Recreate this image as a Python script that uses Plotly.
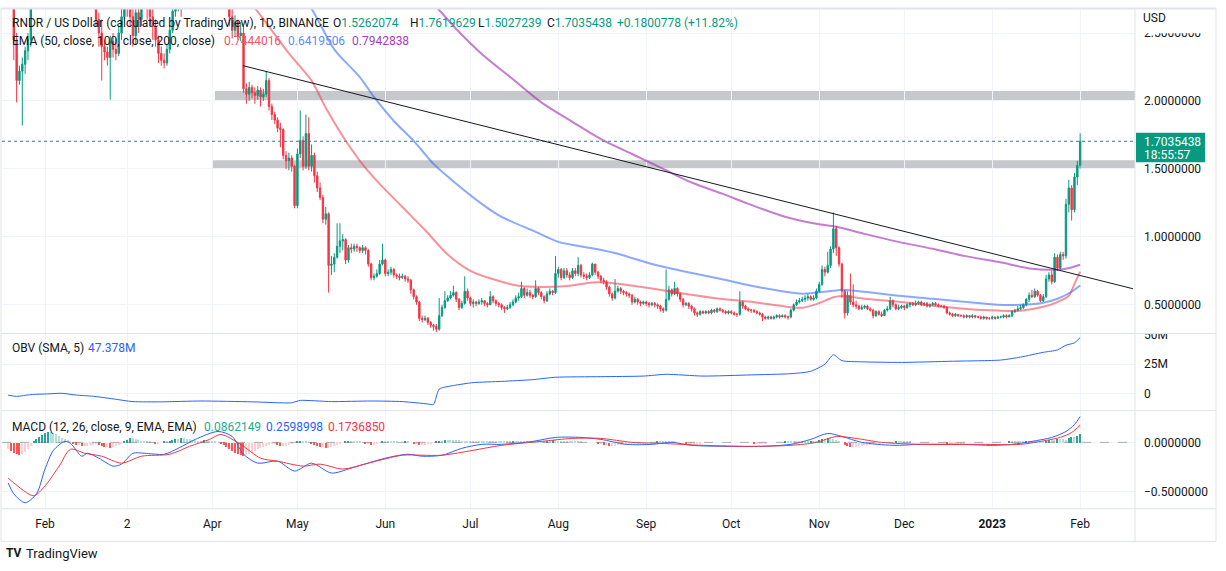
import pandas as pd
import plotly.graph_objects as go

W, H = 1226, 571
FONT = "Roboto"
START = pd.Timestamp("2022-01-19")

# ---------------- daily candles (open = previous close) ----------------
open_first = 3.00
close = [
    2.95, 2.75, 2.45, 2.15, 2.22, 2.27, 2.37, 2.45, 2.75, 2.90,
    3.00, 3.10, 3.05, 3.20, 3.35, 3.50, 3.60, 3.45, 3.55, 3.40,
    3.20, 3.30, 3.10, 2.95, 3.00, 2.85, 2.90, 2.95, 2.90, 2.95,
    2.90, 2.60, 2.50, 2.40, 2.36, 2.32, 2.44, 2.38, 2.35, 2.50,
    2.62, 2.80, 2.75, 2.62, 2.48, 2.65, 2.60, 2.72, 2.80, 2.70,
    2.62, 2.55, 2.45, 2.35, 2.30, 2.28, 2.38, 2.52, 2.66, 2.75,
    2.80, 2.75, 2.85, 2.90, 2.95, 3.00, 2.90, 3.00, 3.15, 3.25,
    3.20, 3.30, 3.10, 3.05, 3.15, 3.10, 3.00, 2.85, 2.62, 2.52,
    2.58, 2.48, 2.50, 2.09, 2.05, 2.10, 2.06, 2.04, 2.08, 2.03,
    2.05, 2.15, 1.96, 1.90, 1.86, 1.80, 1.79, 1.60, 1.56, 1.58,
    1.52, 1.23, 1.61, 1.71, 1.52, 1.76, 1.52, 1.60, 1.45, 1.36,
    1.29, 1.13, 1.17, 0.79, 0.80, 0.85, 0.93, 0.97, 0.98, 0.83,
    0.92, 0.91, 0.93, 0.92, 0.90, 0.92, 0.90, 0.80, 0.70, 0.71,
    0.73, 0.80, 0.83, 0.73, 0.74, 0.76, 0.72, 0.71, 0.70, 0.71,
    0.69, 0.68, 0.61, 0.56, 0.52, 0.40, 0.39, 0.40, 0.37, 0.35,
    0.34, 0.32, 0.42, 0.48, 0.53, 0.55, 0.57, 0.59, 0.54, 0.48,
    0.51, 0.60, 0.55, 0.51, 0.52, 0.51, 0.52, 0.53, 0.51, 0.50,
    0.56, 0.53, 0.51, 0.50, 0.48, 0.47, 0.48, 0.50, 0.52, 0.55,
    0.56, 0.62, 0.57, 0.59, 0.57, 0.56, 0.62, 0.59, 0.56, 0.53,
    0.58, 0.60, 0.59, 0.73, 0.76, 0.70, 0.75, 0.72, 0.70, 0.75,
    0.73, 0.79, 0.72, 0.71, 0.70, 0.72, 0.80, 0.74, 0.71, 0.68,
    0.67, 0.63, 0.58, 0.55, 0.60, 0.62, 0.60, 0.59, 0.58, 0.57,
    0.52, 0.54, 0.52, 0.51, 0.52, 0.51, 0.50, 0.51, 0.50, 0.49,
    0.47, 0.46, 0.54, 0.61, 0.58, 0.62, 0.58, 0.54, 0.50, 0.51,
    0.49, 0.47, 0.44, 0.43, 0.45, 0.44, 0.45, 0.44, 0.46, 0.45,
    0.47, 0.46, 0.45, 0.44, 0.45, 0.44, 0.43, 0.43, 0.52, 0.49,
    0.47, 0.46, 0.46, 0.45, 0.44, 0.43, 0.41, 0.40, 0.41, 0.40,
    0.41, 0.42, 0.41, 0.42, 0.41, 0.41, 0.46, 0.50, 0.52, 0.53,
    0.54, 0.55, 0.56, 0.54, 0.55, 0.60, 0.65, 0.76, 0.74, 0.79,
    0.91, 1.06, 0.92, 0.80, 0.60, 0.44, 0.57, 0.52, 0.50, 0.49,
    0.47, 0.48, 0.49, 0.47, 0.46, 0.42, 0.45, 0.43, 0.42, 0.46,
    0.47, 0.53, 0.50, 0.47, 0.48, 0.49, 0.48, 0.50, 0.51, 0.50,
    0.51, 0.52, 0.50, 0.51, 0.49, 0.50, 0.51, 0.50, 0.49, 0.49,
    0.48, 0.44, 0.43, 0.42, 0.43, 0.42, 0.42, 0.41, 0.42, 0.41,
    0.42, 0.41, 0.41, 0.40, 0.41, 0.40, 0.40, 0.41, 0.40, 0.41,
    0.41, 0.42, 0.41, 0.42, 0.45, 0.46, 0.47, 0.48, 0.50, 0.54,
    0.57, 0.56, 0.60, 0.57, 0.53, 0.56, 0.69, 0.72, 0.67, 0.85,
    0.77, 0.87, 0.86, 1.24, 1.36, 1.20, 1.44, 1.5262074, 1.7035438,
]
high = [
    3.10, 2.98, 2.80, 2.50, 2.26, 2.32, 2.40, 2.50, 2.85, 3.00,
    3.10, 3.20, 3.20, 3.30, 3.50, 3.70, 3.80, 3.70, 3.75, 3.60,
    3.45, 3.40, 3.35, 3.15, 3.10, 3.05, 3.00, 3.05, 3.00, 3.05,
    3.00, 2.95, 2.65, 2.60, 2.45, 2.40, 2.48, 2.50, 2.46, 2.55,
    2.70, 2.90, 2.95, 2.80, 2.68, 2.70, 2.75, 2.85, 2.95, 2.85,
    2.75, 2.70, 2.60, 2.48, 2.40, 2.35, 2.42, 2.56, 2.72, 2.85,
    2.90, 2.88, 2.95, 3.00, 3.05, 3.10, 3.05, 3.10, 3.30, 3.40,
    3.35, 3.45, 3.35, 3.20, 3.25, 3.20, 3.15, 3.05, 2.90, 2.68,
    2.63, 2.60, 2.58, 2.55, 2.13, 2.14, 2.12, 2.10, 2.11, 2.10,
    2.09, 2.22, 2.17, 1.98, 1.92, 1.88, 1.84, 1.80, 1.63, 1.62,
    1.60, 1.53, 1.65, 1.93, 1.74, 1.90, 1.88, 1.68, 1.62, 1.48,
    1.40, 1.31, 1.22, 1.18, 0.86, 0.88, 1.10, 1.10, 1.02, 0.99,
    0.94, 0.95, 0.95, 0.95, 0.93, 0.94, 0.93, 0.91, 0.81, 0.73,
    0.76, 0.83, 0.95, 0.84, 0.76, 0.78, 0.77, 0.73, 0.73, 0.73,
    0.72, 0.71, 0.69, 0.62, 0.57, 0.53, 0.42, 0.42, 0.41, 0.38,
    0.36, 0.36, 0.55, 0.50, 0.60, 0.57, 0.60, 0.64, 0.60, 0.55,
    0.53, 0.71, 0.62, 0.56, 0.54, 0.53, 0.54, 0.55, 0.53, 0.52,
    0.60, 0.57, 0.54, 0.52, 0.51, 0.49, 0.50, 0.52, 0.54, 0.57,
    0.59, 0.67, 0.63, 0.62, 0.61, 0.58, 0.68, 0.63, 0.60, 0.57,
    0.60, 0.62, 0.61, 0.86, 0.78, 0.77, 0.77, 0.77, 0.74, 0.77,
    0.77, 0.85, 0.80, 0.74, 0.73, 0.74, 0.81, 0.80, 0.75, 0.72,
    0.70, 0.68, 0.64, 0.59, 0.69, 0.64, 0.63, 0.61, 0.60, 0.59,
    0.58, 0.56, 0.55, 0.53, 0.53, 0.53, 0.52, 0.52, 0.52, 0.51,
    0.50, 0.48, 0.76, 0.64, 0.62, 0.67, 0.63, 0.59, 0.55, 0.52,
    0.52, 0.50, 0.48, 0.45, 0.46, 0.46, 0.46, 0.46, 0.47, 0.47,
    0.48, 0.48, 0.47, 0.46, 0.46, 0.46, 0.45, 0.44, 0.60, 0.53,
    0.50, 0.48, 0.47, 0.47, 0.46, 0.45, 0.44, 0.42, 0.42, 0.42,
    0.42, 0.43, 0.43, 0.43, 0.43, 0.42, 0.47, 0.51, 0.54, 0.55,
    0.56, 0.57, 0.58, 0.57, 0.57, 0.62, 0.67, 0.79, 0.78, 0.89,
    0.93, 1.18, 1.08, 0.93, 0.81, 0.61, 0.60, 0.73, 0.65, 0.53,
    0.50, 0.50, 0.50, 0.50, 0.48, 0.47, 0.46, 0.46, 0.45, 0.47,
    0.49, 0.56, 0.54, 0.51, 0.50, 0.50, 0.50, 0.51, 0.52, 0.52,
    0.53, 0.53, 0.53, 0.52, 0.52, 0.51, 0.52, 0.52, 0.51, 0.50,
    0.50, 0.49, 0.45, 0.44, 0.44, 0.43, 0.43, 0.43, 0.43, 0.42,
    0.43, 0.42, 0.42, 0.42, 0.42, 0.41, 0.41, 0.42, 0.41, 0.42,
    0.42, 0.43, 0.43, 0.43, 0.46, 0.47, 0.49, 0.50, 0.51, 0.55,
    0.59, 0.61, 0.62, 0.61, 0.58, 0.58, 0.72, 0.74, 0.75, 0.88,
    0.87, 0.89, 0.89, 1.28, 1.42, 1.38, 1.47, 1.56, 1.7619629,
]
low = [
    2.80, 2.70, 2.30, 1.99, 2.12, 1.82, 2.20, 2.30, 2.40, 2.70,
    2.85, 2.95, 2.95, 3.00, 3.15, 3.30, 3.40, 3.35, 3.40, 3.25,
    3.10, 3.10, 3.00, 2.75, 2.80, 2.68, 2.72, 2.75, 2.78, 2.82,
    2.75, 2.55, 2.40, 2.15, 2.30, 2.26, 2.01, 2.32, 2.30, 2.33,
    2.45, 2.60, 2.62, 2.55, 2.40, 2.42, 2.50, 2.55, 2.68, 2.60,
    2.55, 2.45, 2.40, 2.28, 2.26, 2.24, 2.26, 2.35, 2.50, 2.62,
    2.66, 2.62, 2.70, 2.78, 2.80, 2.85, 2.75, 2.68, 2.95, 3.10,
    3.05, 3.15, 3.00, 2.95, 3.00, 2.95, 2.85, 2.75, 2.55, 2.46,
    2.47, 2.45, 2.44, 2.06, 1.98, 2.00, 2.02, 1.98, 2.01, 1.96,
    2.00, 2.03, 1.93, 1.86, 1.83, 1.77, 1.66, 1.57, 1.50, 1.49,
    1.48, 1.21, 1.21, 1.58, 1.49, 1.50, 1.49, 1.48, 1.40, 1.33,
    1.27, 1.10, 1.09, 0.59, 0.72, 0.74, 0.84, 0.88, 0.90, 0.80,
    0.81, 0.88, 0.89, 0.89, 0.88, 0.88, 0.87, 0.78, 0.68, 0.68,
    0.70, 0.72, 0.79, 0.71, 0.71, 0.72, 0.70, 0.69, 0.68, 0.69,
    0.67, 0.66, 0.58, 0.54, 0.50, 0.38, 0.37, 0.38, 0.35, 0.33,
    0.31, 0.30, 0.31, 0.41, 0.47, 0.52, 0.54, 0.56, 0.52, 0.46,
    0.47, 0.50, 0.53, 0.49, 0.48, 0.49, 0.50, 0.50, 0.49, 0.48,
    0.50, 0.51, 0.49, 0.48, 0.46, 0.44, 0.46, 0.47, 0.49, 0.51,
    0.53, 0.55, 0.55, 0.56, 0.55, 0.54, 0.55, 0.57, 0.54, 0.51,
    0.52, 0.57, 0.57, 0.58, 0.70, 0.68, 0.69, 0.70, 0.68, 0.69,
    0.71, 0.71, 0.70, 0.69, 0.68, 0.69, 0.71, 0.72, 0.69, 0.66,
    0.65, 0.61, 0.56, 0.53, 0.54, 0.59, 0.58, 0.57, 0.56, 0.55,
    0.50, 0.51, 0.50, 0.49, 0.50, 0.49, 0.48, 0.49, 0.48, 0.47,
    0.45, 0.44, 0.45, 0.53, 0.56, 0.57, 0.56, 0.52, 0.48, 0.49,
    0.47, 0.45, 0.42, 0.41, 0.42, 0.43, 0.43, 0.43, 0.43, 0.44,
    0.44, 0.45, 0.44, 0.43, 0.43, 0.43, 0.42, 0.41, 0.42, 0.47,
    0.46, 0.45, 0.44, 0.44, 0.43, 0.42, 0.38, 0.39, 0.39, 0.39,
    0.39, 0.40, 0.40, 0.41, 0.40, 0.39, 0.40, 0.45, 0.49, 0.51,
    0.52, 0.52, 0.53, 0.53, 0.53, 0.54, 0.59, 0.64, 0.71, 0.73,
    0.77, 0.88, 0.86, 0.78, 0.55, 0.40, 0.42, 0.50, 0.48, 0.47,
    0.46, 0.46, 0.47, 0.46, 0.45, 0.40, 0.41, 0.42, 0.41, 0.42,
    0.45, 0.46, 0.48, 0.46, 0.46, 0.47, 0.46, 0.47, 0.48, 0.49,
    0.49, 0.50, 0.49, 0.49, 0.48, 0.48, 0.49, 0.49, 0.48, 0.48,
    0.47, 0.43, 0.42, 0.41, 0.41, 0.41, 0.41, 0.40, 0.40, 0.40,
    0.40, 0.40, 0.40, 0.39, 0.39, 0.39, 0.39, 0.39, 0.39, 0.40,
    0.40, 0.40, 0.40, 0.41, 0.41, 0.44, 0.45, 0.46, 0.47, 0.49,
    0.52, 0.55, 0.55, 0.56, 0.52, 0.52, 0.55, 0.67, 0.65, 0.66,
    0.75, 0.76, 0.83, 0.84, 1.18, 1.12, 1.18, 1.38, 1.5027239,
]

# MACD histogram (daily, in hundredths)
hist = [
    -6, -8, -10, -11, -12, -11, -9, -6, -3, 2,
    4, 6, 8, 10, 11, 11, 10, 9, 7, 5,
    4, 3, 1, -1, -2, -2, -3, -3, -3, -2,
    -2, -1, -2, -3, -4, -4, -5, -4, -3, -2,
    -1, 1, 3, 5, 5, 4, 3, 2, 1, 1,
    1, 0, -1, -1, 0, 1, 1, 2, 3, 4,
    4, 5, 5, 4, 4, 3, 3, 2, 2, 3,
    3, 2, 2, 1, 0, -1, -2, -4, -6, -8,
    -10, -11, -12, -13, -12, -11, -10, -8, -6, -5,
    -4, -3, -2, -1, -1, -2, -3, -3, -3, -2,
    -1, 0, 1, 2, 2, 1, 0, -1, -2, -3,
    -4, -4, -5, -5, -4, -3, -2, -1, 0, 1,
    2, 2, 2, 1, 1, 0, -1, -1, -2, -2,
    -1, 0, 1, 1, 1, 1, 1, 1, 0, 0,
    1, 1, 0, -1, -1, -2, -2, -2, -1, -1,
    0, 1, 2, 2, 3, 3, 3, 3, 3, 3,
    2, 2, 2, 2, 2, 2, 2, 1, 1, 1,
    1, 1, 1, 1, 1, 1, 1, 1, 2, 2,
    2, 2, 2, 1, 1, 1, 1, 1, 1, 1,
    2, 2, 3, 3, 2, 2, 1, 1, 1, 1,
    1, 1, 1, 0, 0, 0, 0, 0, -1, -1,
    -2, -2, -3, -3, -3, -2, -2, -2, -2, -2,
    -1, -1, -1, -1, -1, -1, 0, 0, 0, 1,
    1, 1, 1, 1, 1, 1, 0, 0, 0, -1,
    -1, -1, -1, -1, -1, 0, 0, 0, 0, 0,
    0, 0, 0, 0, 0, 0, 0, 0, 0, 0,
    0, 0, 0, -1, -1, -1, -1, -1, 0, 0,
    0, 0, 0, 0, 1, 1, 1, 1, 1, 1,
    1, 1, 1, 2, 2, 2, 3, 4, 4, 5,
    5, 4, 3, 2, 0, -2, -3, -4, -4, -4,
    -3, -3, -2, -2, -2, -1, -1, -1, 0, 0,
    0, 0, 0, 1, 1, 1, 1, 1, 1, 0,
    0, 0, 0, 0, 0, 0, 0, 0, 0, 0,
    0, -1, -1, -1, -1, -1, -1, -1, 0, 0,
    0, 0, 0, 0, 0, 0, 0, 0, 0, 0,
    0, 0, 0, 1, 1, 1, 1, 1, 1, 2,
    2, 2, 2, 2, 1, 1, 2, 3, 3, 3,
    4, 4, 4, 3, 5, 6, 6, 7, 8.6,
]

# ---------------- indicator lines (day offsets from START) ----------------
ema50_day = [75, 86, 99, 107, 112, 118, 124, 131, 139, 147, 155, 163, 174, 180, 192, 198, 207, 215,
             227, 239, 251, 262, 274, 280, 285, 291, 294, 302, 314, 326, 337, 349, 357, 365, 370, 374, 376, 378]
ema50_val = [2.95, 2.71, 2.35, 2.15, 1.95, 1.74, 1.56, 1.39, 1.22, 1.05, 0.87, 0.75, 0.67, 0.64, 0.632, 0.64,
             0.665, 0.655, 0.62, 0.58, 0.545, 0.522, 0.487, 0.478, 0.505, 0.555, 0.565, 0.545, 0.522, 0.493,
             0.471, 0.457, 0.456, 0.485, 0.52, 0.566, 0.654, 0.7444016]
ema100_day = [95, 106, 115, 124, 129, 136, 143, 150, 156, 167, 174, 186, 194, 207, 215, 227, 239, 251, 262,
              274, 280, 285, 291, 294, 302, 314, 326, 337, 349, 357, 365, 370, 375, 378]
ema100_val = [2.95, 2.71, 2.38, 2.176, 2.03, 1.853, 1.706, 1.537, 1.426, 1.243, 1.147, 1.037, 0.963, 0.912,
              0.875, 0.80, 0.743, 0.691, 0.64, 0.596, 0.581, 0.59, 0.603, 0.61, 0.596, 0.566, 0.544, 0.522,
              0.50, 0.50, 0.515, 0.544, 0.596, 0.6419506]
ema200_day = [140, 150, 158, 167, 178, 188, 199, 209, 220, 231, 241, 252, 261, 273, 285, 292, 302, 314, 326,
              337, 349, 361, 367, 373, 378]
ema200_val = [2.90, 2.713, 2.53, 2.346, 2.16, 1.99, 1.846, 1.72, 1.61, 1.50, 1.40, 1.316, 1.243, 1.154, 1.096,
              1.074, 1.022, 0.963, 0.912, 0.86, 0.816, 0.765, 0.757, 0.765, 0.7942838]

obv_day = [0, 3, 8, 14, 19, 24, 30, 37, 44, 54, 68, 86, 100, 103, 114, 128, 139, 148, 150, 152, 157, 164, 174,
           185, 193, 209, 224, 232, 245, 262, 276, 283, 288, 291, 294, 301, 315, 333, 350, 357, 365, 370, 373,
           376, 378]
obv_val = [-1.1, -2.1, -0.6, 0.0, 0.5, -1.0, -2.0, -4.2, -6.5, -6.7, -6.0, -6.7, -7.5, -5.5, -6.5, -6.0, -6.5,
           -8.5, -9.0, 4.0, 7.0, 9.5, 10.5, 12.0, 14.0, 14.5, 15.0, 16.5, 15.0, 16.0, 17.0, 19.0, 25.0, 33.0,
           28.0, 27.0, 26.5, 27.5, 28.5, 31.0, 35.0, 37.0, 41.0, 43.0, 47.378]

macd_day = [0, 2, 6, 10, 13, 16, 20, 22, 26, 28, 32, 37, 40, 44, 48, 55, 60, 66, 74, 79, 83, 88, 95, 101, 107,
            114, 121, 133, 141, 146, 153, 160, 167, 174, 185, 193, 202, 209, 218, 227, 234, 241, 252, 266, 276,
            283, 289, 294, 301, 312, 322, 336, 347, 354, 361, 368, 373, 376, 378]
macd_val = [-0.41, -0.52, -0.61, -0.52, -0.27, -0.08, 0.01, -0.01, -0.14, -0.11, -0.16, -0.24, -0.22, -0.11,
            -0.11, -0.12, -0.06, 0.03, 0.11, 0.06, -0.12, -0.21, -0.19, -0.29, -0.21, -0.31, -0.26, -0.16,
            -0.12, -0.14, -0.13, -0.06, -0.02, -0.02, 0.01, 0.05, 0.05, 0.03, -0.02, -0.02, 0.0, -0.03, -0.04,
            -0.04, -0.02, 0.03, 0.09, 0.06, 0.0, -0.03, -0.02, -0.02, -0.03, -0.02, 0.01, 0.05, 0.11, 0.18,
            0.2598998]
sig_day = [0, 2, 9, 13, 18, 22, 27, 33, 40, 47, 57, 64, 71, 75, 82, 89, 95, 104, 110, 118, 127, 139, 146, 153,
           164, 174, 188, 199, 209, 220, 230, 245, 262, 276, 285, 292, 299, 308, 322, 343, 357, 366, 371, 375, 378]
sig_val = [-0.36, -0.41, -0.54, -0.44, -0.24, -0.07, -0.11, -0.14, -0.21, -0.14, -0.12, -0.04, 0.03, 0.08,
           -0.02, -0.16, -0.19, -0.24, -0.22, -0.27, -0.21, -0.13, -0.13, -0.13, -0.08, -0.03, 0.01, 0.04,
           0.04, 0.0, -0.01, -0.03, -0.04, -0.03, 0.0, 0.06, 0.04, 0.0, -0.02, -0.02, -0.02, 0.02, 0.05, 0.10,
           0.173685]

# ---------------- drawings ----------------
zone_start = ["2022-03-31 21:00", "2022-04-01 22:00"]
zone_low = [1.500, 2.007]
zone_high = [1.563, 2.073]
trend_x = ["2022-04-11 19:00", "2023-02-19 15:00"]
trend_y = [2.26, 0.618]

price_ticks = [0.5, 1.0, 1.5, 2.0, 2.5]
obv_ticks = [0, 25e6, 50e6]
obv_labels = ["0", "25M", "50M"]
macd_ticks = [0.0, -0.5]
macd_labels = ["0.0000000", "\u22120.5000000"]
month_ticks = ["2022-02-01", "2022-03-02", "2022-04-01", "2022-05-01", "2022-06-01", "2022-07-01",
               "2022-08-01", "2022-09-01", "2022-10-01", "2022-11-01", "2022-12-01", "2023-01-01", "2023-02-01"]
month_labels = ["Feb", "2", "Apr", "May", "Jun", "Jul", "Aug", "Sep", "Oct", "Nov", "Dec", "<b>2023</b>", "Feb"]

# ---------------- build ----------------
def to_dates(days):
    return [START + pd.Timedelta(days=d) for d in days]

n = len(close)
dates = to_dates(range(n))
opens = [open_first] + close[:-1]

UP, DOWN = "#089981", "#F23645"

fig = go.Figure()
fig.add_trace(go.Candlestick(
    x=dates, open=opens, high=high, low=low, close=close,
    increasing=dict(line=dict(color=UP, width=1), fillcolor=UP),
    decreasing=dict(line=dict(color=DOWN, width=1), fillcolor=DOWN),
    whiskerwidth=0, xaxis="x", yaxis="y", hoverinfo="skip"))

for d, v, col in [(ema50_day, ema50_val, "rgba(242,54,69,0.55)"),
                  (ema100_day, ema100_val, "rgba(41,98,255,0.55)"),
                  (ema200_day, ema200_val, "rgba(156,39,176,0.6)")]:
    fig.add_trace(go.Scatter(x=to_dates(d), y=v, mode="lines",
                             line=dict(color=col, width=2, shape="spline", smoothing=0.8),
                             xaxis="x", yaxis="y", hoverinfo="skip"))

fig.add_trace(go.Scatter(x=to_dates(obv_day), y=[v * 1e6 for v in obv_val], mode="lines",
                         line=dict(color="#2962FF", width=1, shape="spline", smoothing=0.6),
                         xaxis="x", yaxis="y2", hoverinfo="skip"))

hvals = [h / 100 for h in hist]
hcols = []
for k, h in enumerate(hvals):
    prev = hvals[k - 1] if k > 0 else h
    if h >= 0:
        hcols.append("#26A69A" if h > prev else "#B2DFDB")
    else:
        hcols.append("#FF5252" if h < prev else "#FFCDD2")
fig.add_trace(go.Bar(x=dates, y=hvals, marker=dict(color=hcols, line=dict(width=0)),
                     width=0.45 * 86400000, xaxis="x", yaxis="y3", hoverinfo="skip"))
fig.add_trace(go.Scatter(x=to_dates(macd_day), y=macd_val, mode="lines",
                         line=dict(color="#2962FF", width=1, shape="spline", smoothing=0.8),
                         xaxis="x", yaxis="y3", hoverinfo="skip"))
fig.add_trace(go.Scatter(x=to_dates(sig_day), y=sig_val, mode="lines",
                         line=dict(color="#F23645", width=1, shape="spline", smoothing=0.8),
                         xaxis="x", yaxis="y3", hoverinfo="skip"))

# ---------------- layout geometry (pixels) ----------------
PX_PER_DAY = 2.836
FEB1_X = 45
PLOT_L, PLOT_R = 2, 1135
feb1 = pd.Timestamp("2022-02-01")
x0 = feb1 + pd.Timedelta(days=(PLOT_L - FEB1_X) / PX_PER_DAY)
x1 = feb1 + pd.Timedelta(days=(PLOT_R - FEB1_X) / PX_PER_DAY)

P_TOP, P_BOT = 3, 331
O_BOT = 409
M_BOT = 508
ONE_Y, PX_PER_UNIT = 233.3, 137.3

def yd(top, bot):
    return [1 - bot / H, 1 - top / H]

grid = "#F0F3FA"
axfont = dict(family=FONT, size=12, color="#131722")

fig.update_layout(
    width=W, height=H, margin=dict(l=0, r=0, t=0, b=0),
    paper_bgcolor="white", plot_bgcolor="white", showlegend=False,
    font=dict(family=FONT, size=12, color="#131722"), bargap=0,
    xaxis=dict(domain=[PLOT_L / W, PLOT_R / W], range=[x0, x1], anchor="y3", type="date",
               tickmode="array", tickvals=month_ticks, ticktext=month_labels, tickfont=axfont,
               showgrid=True, gridcolor=grid, gridwidth=1, zeroline=False, showline=False, ticks="",
               rangeslider=dict(visible=False), ticklabelstandoff=6),
    yaxis=dict(domain=yd(P_TOP, P_BOT),
               range=[1 - (P_BOT - ONE_Y) / PX_PER_UNIT, 1 + (ONE_Y - P_TOP) / PX_PER_UNIT],
               side="right", anchor="x", tickmode="array", tickvals=price_ticks,
               ticktext=["%.7f" % t for t in price_ticks], tickfont=axfont, showgrid=True, gridcolor=grid,
               zeroline=False, showline=False, ticks="", ticklabelstandoff=8),
    yaxis2=dict(domain=yd(P_BOT, O_BOT), range=[-(O_BOT - 392) / 1.2e-6, (392 - P_BOT) / 1.2e-6],
                side="right", anchor="x", tickmode="array", tickvals=obv_ticks, ticktext=obv_labels,
                tickfont=axfont, showgrid=True, gridcolor=grid, zeroline=False, showline=False, ticks="",
                ticklabelstandoff=8),
    yaxis3=dict(domain=yd(O_BOT, M_BOT), range=[-(M_BOT - 441) / 100, (441 - O_BOT) / 100],
                side="right", anchor="x", tickmode="array", tickvals=macd_ticks, ticktext=macd_labels,
                tickfont=axfont, showgrid=True, gridcolor=grid, zeroline=False, showline=False, ticks="",
                ticklabelstandoff=8),
)

shapes = []
for s, lo, hi in zip(zone_start, zone_low, zone_high):
    shapes.append(dict(type="rect", xref="x", yref="y", x0=s, x1=x1, y0=lo, y1=hi,
                       fillcolor="rgba(120,123,134,0.42)", line=dict(width=0), layer="below"))
shapes.append(dict(type="line", xref="paper", yref="y", x0=PLOT_L / W, x1=PLOT_R / W,
                   y0=close[-1], y1=close[-1], line=dict(color=UP, width=1, dash="dot"), layer="above"))
shapes.append(dict(type="line", xref="x", yref="y", x0=trend_x[0], x1=trend_x[1], y0=trend_y[0],
                   y1=trend_y[1], line=dict(color="#131722", width=1), layer="above"))
shapes.append(dict(type="line", xref="paper", yref="y3", x0=PLOT_L / W, x1=PLOT_R / W, y0=0, y1=0,
                   line=dict(color="rgba(120,123,134,0.6)", width=1, dash="dash"), layer="above"))

def pline(xa, ya, xb, yb, color="#E0E3EB", width=1):
    shapes.append(dict(type="line", xref="paper", yref="paper", x0=xa / W, x1=xb / W,
                       y0=1 - ya / H, y1=1 - yb / H, line=dict(color=color, width=width), layer="above"))

def prect(xa, ya, xb, yb, fill, line_w=0):
    shapes.append(dict(type="rect", xref="paper", yref="paper", x0=xa / W, x1=xb / W,
                       y0=1 - yb / H, y1=1 - ya / H, fillcolor=fill, line=dict(width=line_w), layer="above"))

# covers for half-hidden axis labels
prect(1136, 3.5, 1215, 27.5, "white")
prect(1136, 322, 1215, 330.5, "white")
# frame and separators
pline(1, 2.5, 1216, 2.5, "#E0E3EB", 2)
pline(1, 2, 1, 541)
pline(1216, 2, 1216, 541)
pline(1, 541, 1216, 541)
pline(1, P_BOT, 1216, P_BOT)
pline(1, O_BOT, 1216, O_BOT)
pline(1, M_BOT, 1216, M_BOT)
pline(PLOT_R, 2, PLOT_R, 541)
# current price label
prect(1136, 128, 1205, 158, UP)

fig.update_layout(shapes=shapes)

ann = []
def txt(x, y, s, color="#131722", size=12):
    ann.append(dict(xref="paper", yref="paper", x=x / W, y=1 - y / H, text=s, showarrow=False,
                    xanchor="left", yanchor="middle", font=dict(family=FONT, size=size, color=color)))

TEAL = "#089981"
txt(10, 17, "RNDR / US Dollar (calculated by TradingView), 1D, BINANCE")
txt(331, 17, 'O<span style="color:%s">1.5262074</span>' % TEAL)
txt(408, 17, 'H<span style="color:%s">1.7619629</span>' % TEAL)
txt(476, 17, 'L<span style="color:%s">1.5027239</span>' % TEAL)
txt(545, 17, 'C<span style="color:%s">1.7035438</span>' % TEAL)
txt(615, 17, "+0.1800778 (+11.82%)", TEAL)
txt(10, 35, "EMA (50, close, 100, close, 200, close)")
txt(222, 35, "0.7444016", "#F7525F")
txt(286, 35, "0.6419506", "#5B8DF6")
txt(350, 35, "0.7942838", "#A33BC0")
txt(10, 346, "OBV (SMA, 5)")
txt(86, 346, "47.378M", "#2962FF")
txt(10, 425, "MACD (12, 26, close, 9, EMA, EMA)")
txt(202, 425, "0.0862149", "#22AB94")
txt(264, 425, "0.2598998", "#2962FF")
txt(326, 425, "0.1736850", "#F23645")
txt(1141, 12, "USD")
txt(1142, 137, "1.7035438", "white")
txt(1142, 151, "18:55:57", "white")
txt(4, 553, "<b>TV</b>", "#131722", 12)
txt(24, 553, "TradingView", "#131722", 13)
fig.update_layout(annotations=ann)

fig.write_html("out.html")
